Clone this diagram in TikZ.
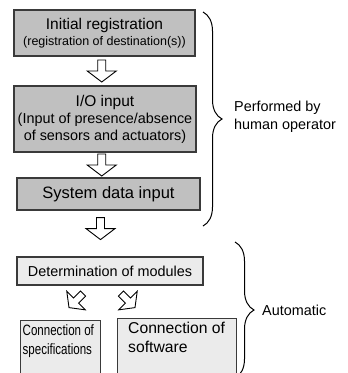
\documentclass[tikz,border=0pt]{standalone}
\usepackage{fontspec}
\setmainfont{Liberation Sans}
\usepackage{graphicx}
\usetikzlibrary{decorations.pathreplacing,calc}
\definecolor{stepdark}{HTML}{C0C0C0}
\definecolor{steplight}{HTML}{EBEBEB}
\definecolor{edge}{HTML}{3A3A3A}
\tikzset{
  darkbox/.style={draw=edge, line width=1.2pt, fill=stepdark, inner sep=0pt, align=center,
    font=\fontsize{14.4}{16.5}\selectfont},
  lightbox/.style={draw=edge, line width=1.2pt, fill=steplight, inner sep=0pt, align=center,
    font=\fontsize{14.4}{16.5}\selectfont},
  boxtext/.style={inner sep=0pt, anchor=north west, align=left},
  blockarrow/.pic={
    \draw[line width=0.9pt, fill=white, line join=miter]
      (-4,-11) -- (4,-11) -- (4,0) -- (14.5,0) -- (0,11) -- (-14.5,0) -- (-4,0) -- cycle;},
  bracestyle/.style={decorate, decoration={brace, amplitude=19pt}, line width=1pt},
  sidetext/.style={font=\fontsize{14.4}{17.5}\selectfont, align=left, anchor=west, inner sep=0pt}
}
\newcommand{\narrowtext}[1]{\scalebox{0.77}[1]{#1}}
\begin{document}
\begin{tikzpicture}[x=1pt,y=-1pt]
\useasboundingbox (0,0) rectangle (348,373);
\clip (0,0) rectangle (348,373);

% steps entered by the operator
\node[darkbox, minimum width=181pt, minimum height=46pt] (init) at (104.5,33)
  {\fontsize{15.5}{18}\selectfont Initial registration\\[-1pt]
   \fontsize{12.5}{15}\selectfont (registration of destination(s))};
\node[darkbox, minimum width=182pt, minimum height=66pt] (io) at (105,119)
  {\fontsize{15.5}{18}\selectfont I/O input\\[1pt]
   (Input of presence/absence\\of sensors and actuators)};
\node[darkbox, minimum width=183pt, minimum height=32pt] (sys) at (108.5,194)
  {\fontsize{16.5}{19}\selectfont System data input};

% automatic steps
\node[lightbox, minimum width=186pt, minimum height=28pt] (mods) at (110,271)
  {Determination of modules};
\node[lightbox, minimum width=80pt, minimum height=72pt, anchor=north west] (spec) at (20,320) {};
\node[boxtext, font=\fontsize{15}{19}\selectfont] (spectext) at ($(spec.north west)+(2.5,4)$)
  {\narrowtext{Connection of}\\\narrowtext{specifications}};
\node[lightbox, minimum width=119pt, minimum height=72pt, anchor=north west] (soft) at (117,318) {};
\node[boxtext, font=\fontsize{15.7}{18.5}\selectfont] (softtext) at ($(soft.north west)+(11,4)$)
  {Connection of\\software};

% block arrows between the steps
\pic at ($(init.south)!0.5!(io.north)+(-3,0)$) {blockarrow};
\pic at ($(io.south)!0.5!(sys.north)+(-5,0)$) {blockarrow};
\pic at ($(sys.south)+(-8,18)$) {blockarrow};
\pic[rotate=-45, scale=0.9] at ($(mods.south)+(-34,15)$) {blockarrow};
\pic[rotate=45, scale=0.9] at ($(mods.south)+(18,15)$) {blockarrow};

% braces grouping the steps
\coordinate (humtop) at (203,12);
\coordinate (humbot) at (203,226);
\draw[bracestyle] (humtop) -- (humbot);
\node[sidetext] (humtext) at (234,117) {Performed by\\human operator};
\coordinate (autotop) at (235,242);
\coordinate (autobot) at (235,378);
\draw[bracestyle] (autotop) -- (autobot);
\node[sidetext] (autotext) at (262,310) {Automatic};
\end{tikzpicture}
\end{document}
